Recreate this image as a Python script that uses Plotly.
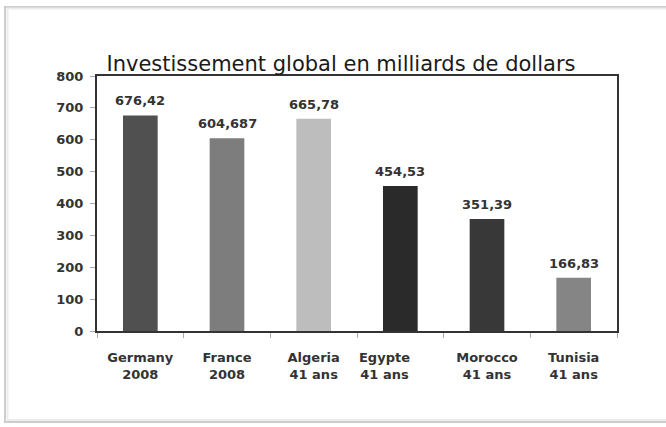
import plotly.graph_objects as go

categories = ["Germany 2008", "France 2008", "Algeria 41 ans", "Egypte 41 ans", "Morocco 41 ans", "Tunisia 41 ans"]
tick_labels = ["Germany<br>2008", "France<br>2008", "Algeria<br>41 ans",
               "Egypte" + "\u00a0" * 7 + "<br>41 ans" + "\u00a0" * 7,
               "Morocco<br>41 ans", "Tunisia<br>41 ans"]
values = [676.42, 604.687, 665.78, 454.53, 351.39, 166.83]
colors = ["#505050", "#7d7d7d", "#bdbdbd", "#2a2a2a", "#383838", "#858585"]
y_ticks = [0, 100, 200, 300, 400, 500, 600, 700, 800]

FONT = "DejaVu Sans"

fig = go.Figure()
fig.add_trace(go.Bar(
    x=categories, y=values,
    marker=dict(color=colors, line=dict(width=0)),
    hoverinfo="skip",
))

for c, v in zip(categories, values):
    fig.add_annotation(
        x=c, y=v, xref="x", yref="y",
        text=str(v).replace(".", ","),
        showarrow=False, yanchor="bottom", yshift=5,
        font=dict(family=FONT, size=13, color="#333333", weight="bold"),
    )

# outer card frame
fig.add_shape(type="rect", xref="paper", yref="paper",
              x0=-0.1769, x1=1.25, y0=-0.357, y1=1.2706,
              line=dict(color="#cdcdcd", width=2), fillcolor="rgba(0,0,0,0)", layer="below")
fig.add_shape(type="rect", xref="paper", yref="paper",
              x0=-0.1720, x1=1.25, y0=-0.349, y1=1.2650,
              line=dict(color="#ececec", width=2), fillcolor="rgba(0,0,0,0)", layer="below")

fig.update_layout(
    width=666, height=427,
    margin=dict(l=97, r=49, t=76, b=96),
    paper_bgcolor="white", plot_bgcolor="white",
    showlegend=False,
    bargap=0.6,
    title=dict(text="Investissement global en milliards de dollars",
               x=0.512, xanchor="center", y=0.85, yanchor="middle",
               font=dict(family=FONT, size=21, color="#1a1a1a")),
    xaxis=dict(
        tickmode="array", tickvals=categories, ticktext=tick_labels,
        tickangle=0,
        tickfont=dict(family=FONT, size=13, color="#333333", weight="bold"),
        showline=True, linecolor="#333333", linewidth=2, mirror=True,
        ticks="outside", ticklen=5, tickcolor="#aaaaaa", tickson="boundaries",
        ticklabelstandoff=13,
        showgrid=False, fixedrange=True,
    ),
    yaxis=dict(
        range=[0, 800], tickvals=y_ticks,
        tickfont=dict(family=FONT, size=13, color="#333333", weight="bold"),
        showline=True, linecolor="#333333", linewidth=2, mirror=True,
        ticks="outside", ticklen=5, tickcolor="#aaaaaa",
        showgrid=False, zeroline=False, fixedrange=True,
        ticklabelstandoff=4,
    ),
)

fig.write_html("out.html", config={"displayModeBar": False},
               post_script="document.body.style.margin='0';")
